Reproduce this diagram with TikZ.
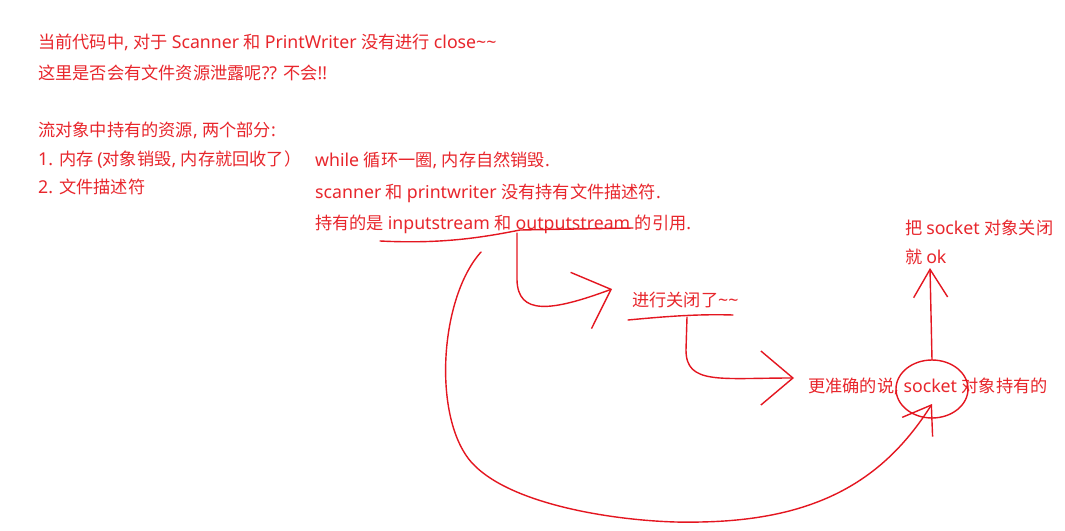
\documentclass[tikz,border=0pt]{standalone}
\usepackage{fontspec}
\setmainfont{Noto Sans CJK SC}
\newfontfamily\latinfont{Noto Sans}[Scale=1.03]
\newfontfamily\cjkfont{Noto Sans CJK SC}
% CJK ideographs get their own class, Latin stays in class 0
\newcount\cjkchar
\cjkchar="4E00
\loop
  \XeTeXcharclass\cjkchar=5
  \advance\cjkchar by 1
\ifnum\cjkchar<"A000 \repeat
\XeTeXcharclass"FF09=5
\XeTeXinterchartokenstate=1
\XeTeXinterchartoks 0 5 = {\cjkfont}
\XeTeXinterchartoks 5 0 = {\latinfont}
\XeTeXinterchartoks 4095 5 = {\cjkfont}
\XeTeXinterchartoks 4095 0 = {\latinfont}
\usetikzlibrary{arrows.meta}

\definecolor{inkred}{RGB}{232,38,44}
\definecolor{penred}{RGB}{228,22,32}

\begin{document}
\begin{tikzpicture}[x=1pt, y=-1pt, font=\fontsize{17.2}{20}\selectfont,
  note/.style={anchor=west, inner sep=0pt, text=inkred},
  pen/.style={penred, line width=1.4pt, line cap=round, line join=round}]
  \useasboundingbox[fill=white] (0,0) rectangle (1065,530);

  % left column
  \node[note] (close) at (38,42) {当前代码中, 对于 Scanner 和 PrintWriter 没有进行 close\textasciitilde\textasciitilde};
  \node[note] (leak) at (38,73) {这里是否会有文件资源泄露呢?? 不会!!};
  \node[note] (parts) at (38,130) {流对象中持有的资源, 两个部分:};
  \node[note] (mem) at (38,160) {1. 内存 (对象销毁, 内存就回收了）};
  \node[note] (fd) at (38,187) {2. 文件描述符};

  % middle column
  \node[note] (loop) at (315,160) {while 循环一圈, 内存自然销毁.};
  \node[note] (nofd) at (315,193) {scanner 和 printwriter 没有持有文件描述符.};
  \node[note] (refs) at (315,224) {持有的是 inputstream 和 outputstream 的引用.};

  % right side
  \node[note] (closed) at (632,300) {进行关闭了\textasciitilde\textasciitilde};
  \node[note] (precise) at (808,386) {更准确的说, socket 对象持有的};
  \node[note] (sockclose) at (905,228) {把 socket 对象关闭};
  \node[note] (okline) at (905,257) {就 ok};

  \coordinate (refsmark) at (517,233);
  \coordinate (closetip) at (612,289);
  \coordinate (closedmark) at (687,317);
  \coordinate (precisetip) at (794,378);
  \coordinate (sock) at (932,389);
  \coordinate (loopstart) at (481,252);
  \coordinate (socktip) at (932,404);

  % hand strokes
  \draw[pen] (380,241) .. controls (440,244) and (480,238) .. (520,230) -- (633,228);
  \draw[pen] (628,320) .. controls (670,316) and (700,314) .. (733,315);
  \draw[pen] (sock) ellipse [x radius=36pt, y radius=29pt];

  \draw[pen, -{Straight Barb[length=32pt, width=60pt]}] (refsmark) -- (517,280)
    .. controls (518,315) and (550,312) .. (closetip);
  \draw[pen, -{Straight Barb[length=32pt, width=54pt]}] (closedmark) -- (686,350)
    .. controls (686,385) and (720,378) .. (precisetip);
  \draw[pen, -{Straight Barb[length=28pt, width=34pt]}] (932,360) -- (930,268);
  \draw[pen, -{Straight Barb[length=26pt, width=36pt]}] (loopstart)
    .. controls (438,300) and (432,425) .. (475,466)
    .. controls (520,510) and (640,524) .. (700,522)
    .. controls (820,520) and (885,478) .. (socktip);
\end{tikzpicture}
\end{document}
